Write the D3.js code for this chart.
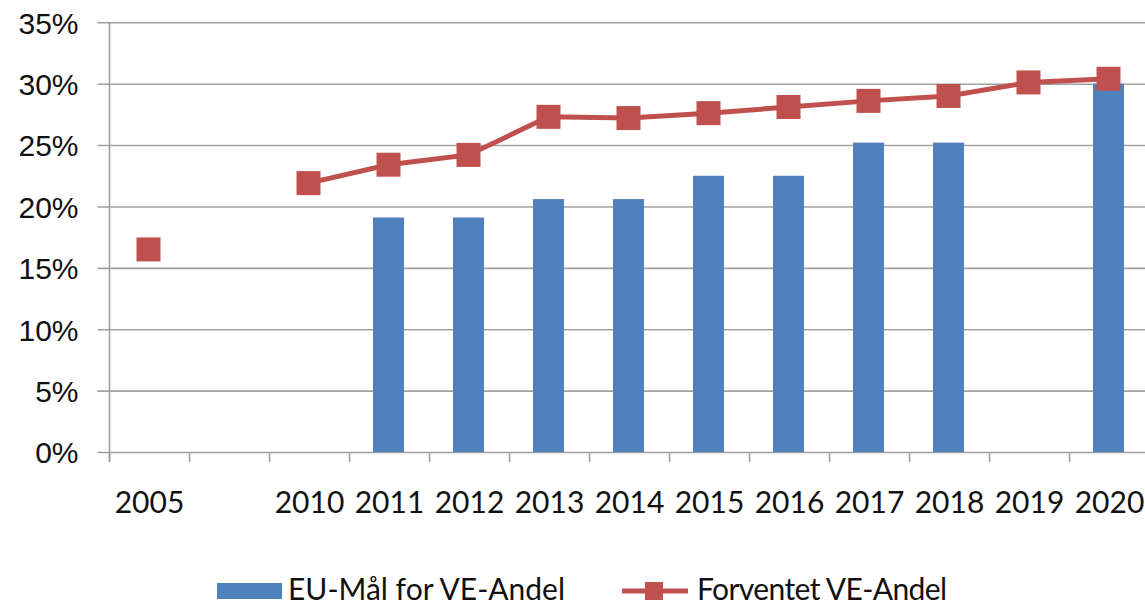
<!DOCTYPE html>
<html>
<head>
<meta charset="utf-8">
<script src="https://cdn.jsdelivr.net/npm/d3@7"></script>
<style>
  body { margin: 0; background: #fff; }
  svg { display: block; font-family: Lato, 'Open Sans', sans-serif; }
</style>
</head>
<body>
<svg id="chart" width="1145" height="605"></svg>
<script>
// years on the category axis; the empty slot is the gap between 2005 and 2010
const categories = ['2005', 'gap', '2010', '2011', '2012', '2013', '2014', '2015', '2016', '2017', '2018', '2019', '2020'];
const categoryLabels = ['2005', '', '2010', '2011', '2012', '2013', '2014', '2015', '2016', '2017', '2018', '2019', '2020'];
// EU target share (%), bars
const euTarget = [null, null, null, 19.1, 19.1, 20.6, 20.6, 22.5, 22.5, 25.2, 25.2, null, 30.0];
// expected renewable share (%), line
const expected = [16.5, null, 21.9, 23.4, 24.2, 27.3, 27.2, 27.6, 28.1, 28.6, 29.0, 30.1, 30.4];
const yTicks = [0, 5, 10, 15, 20, 25, 30, 35];
const seriesNames = ['EU-Mål for VE-Andel', 'Forventet VE-Andel'];

const blue = '#4f81bd';
const red = '#c0504d';
const gridColor = '#a0a0a0';
const textColor = '#111';

const svg = d3.select('#chart');
const margin = { top: 22.3, left: 109.5, bottom: 452 };
const plotRight = 1149.5;

const x = d3
  .scaleBand()
  .domain(categories)
  .range([margin.left, plotRight])
  .paddingInner(0)
  .paddingOuter(0);

const y = d3
  .scaleLinear()
  .domain([0, 35])
  .range([margin.bottom, margin.top]);

const rows = categories.map((c, i) => ({
  key: c,
  label: categoryLabels[i],
  target: euTarget[i],
  expected: expected[i]
}));

// gridlines + y ticks
const yAxis = d3
  .axisLeft(y)
  .tickValues(yTicks)
  .tickSize(-(plotRight - margin.left))
  .tickPadding(20)
  .tickFormat(d => `${d}%`);

const gY = svg
  .append('g')
  .attr('transform', `translate(${margin.left},0)`)
  .call(yAxis);
gY.select('.domain').remove();
gY.selectAll('.tick line')
  .attr('x1', -12)
  .attr('stroke', gridColor)
  .attr('stroke-width', 1.6);
gY.selectAll('.tick text')
  .attr('font-size', 30)
  .attr('fill', textColor)
  .attr('x', -31)
  .attr('dy', '0.36em');

// vertical axis line
svg
  .append('line')
  .attr('x1', margin.left)
  .attr('x2', margin.left)
  .attr('y1', margin.top)
  .attr('y2', margin.bottom + 10)
  .attr('stroke', gridColor)
  .attr('stroke-width', 1.6);

// x axis ticks at slot boundaries
const boundaries = categories.map(c => x(c)).concat([plotRight]);
svg
  .append('g')
  .selectAll('line')
  .data(boundaries)
  .join('line')
  .attr('x1', d => d)
  .attr('x2', d => d)
  .attr('y1', margin.bottom)
  .attr('y2', margin.bottom + 10)
  .attr('stroke', gridColor)
  .attr('stroke-width', 1.6);

// x labels
svg
  .append('g')
  .selectAll('text')
  .data(rows)
  .join('text')
  .attr('x', d => x(d.key) + x.bandwidth() / 2)
  .attr('y', 513)
  .attr('text-anchor', 'middle')
  .attr('font-size', 30)
  .attr('fill', textColor)
  .text(d => d.label);

// bars
const barWidth = 31;
svg
  .append('g')
  .selectAll('rect')
  .data(rows.filter(d => d.target !== null))
  .join('rect')
  .attr('x', d => x(d.key) + x.bandwidth() / 2 - barWidth / 2 - 1)
  .attr('y', d => y(d.target))
  .attr('width', barWidth)
  .attr('height', d => y(0) - y(d.target))
  .attr('fill', blue);

// line, broken over the empty slot
const line = d3
  .line()
  .defined(d => d.expected !== null)
  .x(d => x(d.key) + x.bandwidth() / 2 - 1)
  .y(d => y(d.expected));

svg
  .append('path')
  .datum(rows)
  .attr('d', line)
  .attr('fill', 'none')
  .attr('stroke', red)
  .attr('stroke-width', 5);

const markerSize = 24;
svg
  .append('g')
  .selectAll('rect')
  .data(rows.filter(d => d.expected !== null))
  .join('rect')
  .attr('x', d => x(d.key) + x.bandwidth() / 2 - 1 - markerSize / 2)
  .attr('y', d => y(d.expected) - markerSize / 2)
  .attr('width', markerSize)
  .attr('height', markerSize)
  .attr('fill', red);

// legend
const legend = svg.append('g');
legend
  .append('rect')
  .attr('x', 217)
  .attr('y', 583)
  .attr('width', 65)
  .attr('height', 16)
  .attr('fill', blue);
legend
  .append('text')
  .attr('x', 288)
  .attr('y', 600)
  .attr('font-size', 30)
  .attr('fill', textColor)
  .text(seriesNames[0]);

legend
  .append('line')
  .attr('x1', 622)
  .attr('x2', 688)
  .attr('y1', 591)
  .attr('y2', 591)
  .attr('stroke', red)
  .attr('stroke-width', 5);
legend
  .append('rect')
  .attr('x', 645)
  .attr('y', 582)
  .attr('width', 18)
  .attr('height', 18)
  .attr('fill', red);
legend
  .append('text')
  .attr('x', 697)
  .attr('y', 600)
  .attr('font-size', 30)
  .attr('letter-spacing', -0.6)
  .attr('fill', textColor)
  .text(seriesNames[1]);
</script>
</body>
</html>
